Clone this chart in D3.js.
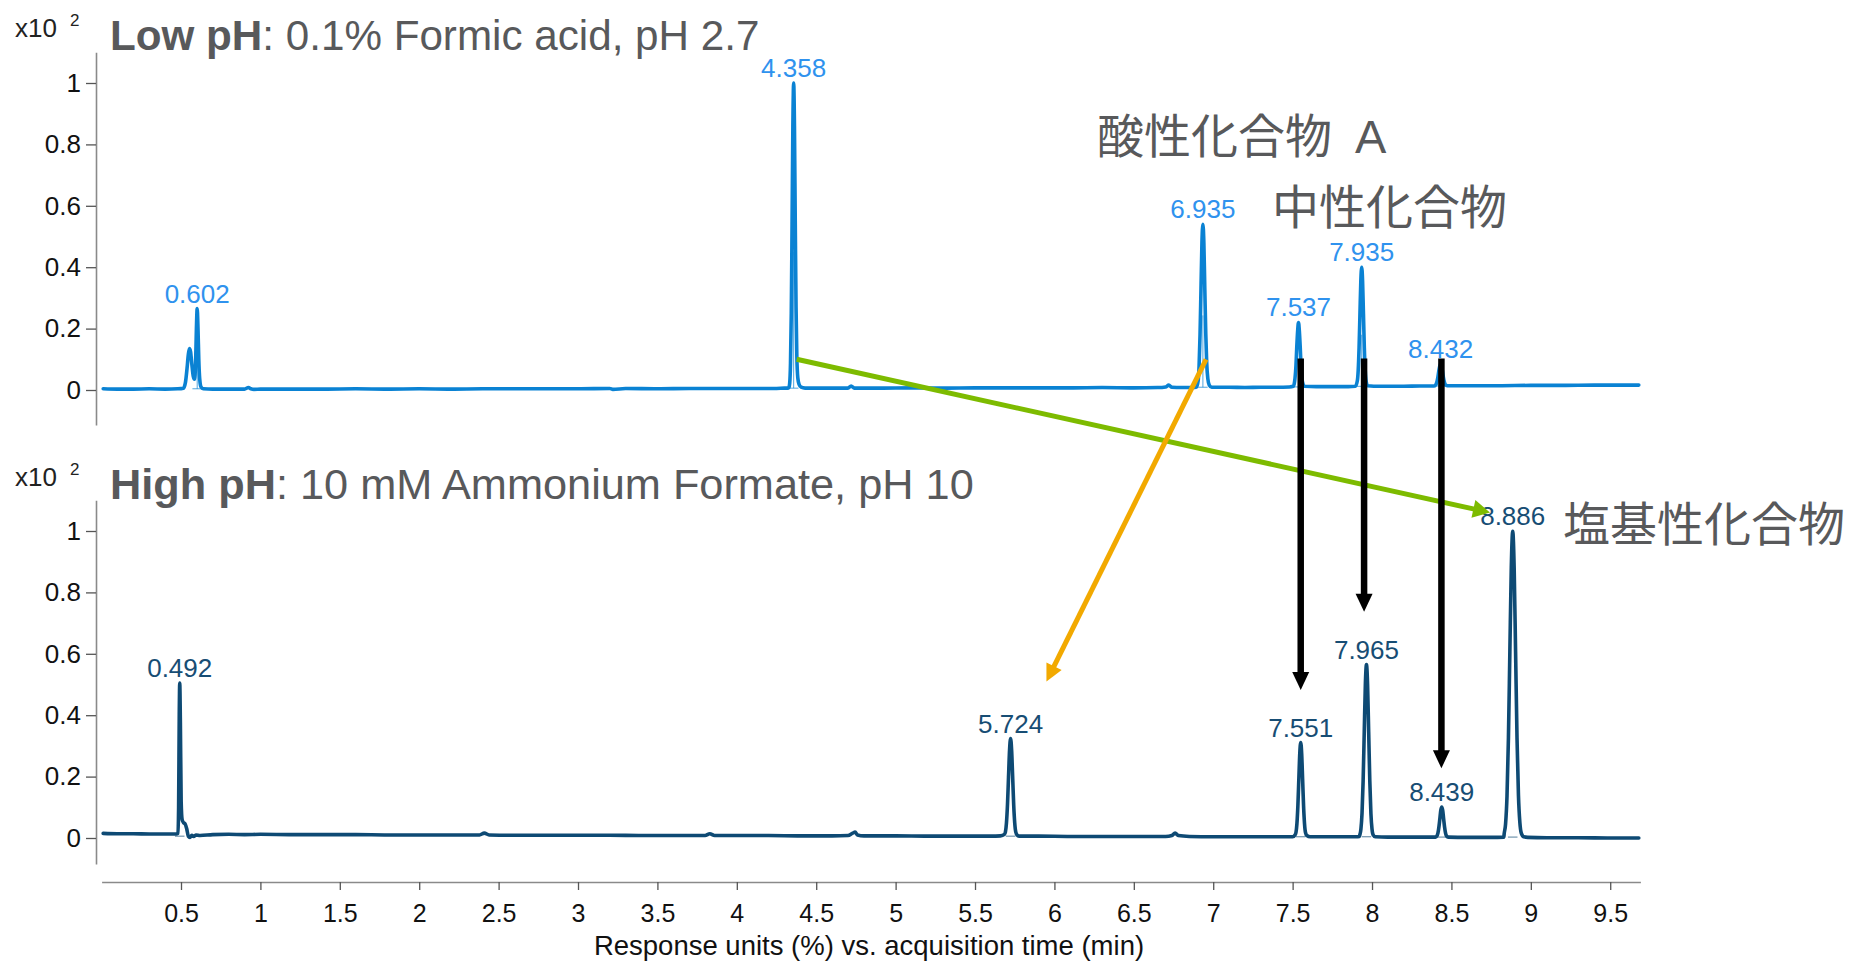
<!DOCTYPE html>
<html>
<head>
<meta charset="utf-8">
<script src="https://cdn.jsdelivr.net/npm/d3@7"></script>
<style>
  html, body { margin: 0; padding: 0; background: #fff; }
  svg { display: block; font-family: "Liberation Sans", Arial, sans-serif; }
</style>
</head>
<body>
<svg id="chart" width="1857" height="962"></svg>
<script>
// ---------- Chromatogram data (time in min, response in x10^2 %) ----------

// Low pH run: 0.1% formic acid
const lowPhTrace = [
  [0.01,0.004],[0.1,0.003],[0.2,0.003],[0.3,0.004],[0.4,0.003],[0.48,0.004],[0.515,0.006],
  [0.528,0.025],[0.538,0.07],[0.546,0.115],[0.553,0.135],[0.56,0.125],[0.568,0.085],[0.577,0.045],[0.585,0.035],
  [0.592,0.09],[0.597,0.2],[0.602,0.265],[0.607,0.2],[0.612,0.1],[0.618,0.035],[0.626,0.01],[0.64,0.004],
  [0.7,0.003],[0.8,0.003],[0.9,0.003],[0.925,0.008],[0.94,0.004],[0.96,0.002],[1.0,0.003],[1.2,0.003],
  [1.4,0.003],[1.6,0.004],[1.8,0.003],[2.0,0.004],[2.2,0.003],[2.4,0.004],[2.6,0.004],[2.8,0.004],
  [3.0,0.004],[3.2,0.005],[3.22,0.002],[3.3,0.005],[3.5,0.004],[3.7,0.005],[3.9,0.005],[4.1,0.005],
  [4.25,0.005],[4.3,0.006],[4.323,0.006],
  [4.328,0.008],[4.333,0.022],[4.338,0.085],[4.343,0.25],[4.348,0.54],[4.353,0.86],[4.358,1.0],
  [4.363,0.86],[4.368,0.55],[4.373,0.27],[4.378,0.11],[4.384,0.04],[4.392,0.018],[4.405,0.009],[4.43,0.006],
  [4.6,0.006],[4.7,0.006],[4.72,0.013],[4.74,0.006],[4.9,0.006],[5.1,0.007],[5.3,0.006],[5.5,0.007],
  [5.7,0.007],[5.9,0.007],[6.1,0.007],[6.3,0.008],[6.5,0.007],[6.65,0.008],[6.7,0.01],[6.72,0.016],
  [6.74,0.009],[6.8,0.008],[6.87,0.008],
  [6.895,0.01],[6.905,0.03],[6.911,0.078],[6.917,0.18],[6.923,0.33],[6.929,0.48],[6.935,0.54],
  [6.941,0.48],[6.947,0.33],[6.953,0.185],[6.959,0.088],[6.966,0.037],[6.975,0.016],[6.99,0.009],
  [7.1,0.009],[7.2,0.008],[7.3,0.009],[7.4,0.009],[7.48,0.01],[7.505,0.012],
  [7.51,0.02],[7.515,0.038],[7.521,0.079],[7.526,0.138],[7.532,0.195],[7.537,0.22],[7.542,0.195],
  [7.548,0.138],[7.553,0.079],[7.559,0.038],[7.565,0.02],[7.575,0.012],
  [7.65,0.011],[7.75,0.011],[7.85,0.011],[7.895,0.012],
  [7.9075,0.03],[7.913,0.064],[7.9185,0.138],[7.924,0.248],[7.9295,0.355],[7.935,0.40],[7.9405,0.355],
  [7.946,0.248],[7.9515,0.138],[7.957,0.064],[7.9625,0.03],[7.972,0.014],
  [8.05,0.012],[8.2,0.012],[8.3,0.013],[8.39,0.013],
  [8.4,0.016],[8.408,0.025],[8.414,0.04],[8.42,0.06],[8.426,0.077],[8.432,0.085],[8.438,0.077],
  [8.444,0.06],[8.45,0.04],[8.456,0.025],[8.464,0.016],[8.475,0.014],
  [8.6,0.014],[8.8,0.014],[9.0,0.015],[9.2,0.015],[9.4,0.016],[9.6,0.016],[9.68,0.016]
];
const lowPhPeakTimes   = [0.602, 4.358, 6.935, 7.537, 7.935, 8.432];
const lowPhPeakHeights = [0.265, 1.0,   0.54,  0.22,  0.40,  0.085];

// High pH run: 10 mM ammonium formate
const highPhTrace = [
  [0.01,0.015],[0.1,0.014],[0.2,0.014],[0.3,0.013],[0.4,0.013],[0.47,0.013],[0.481,0.015],
  [0.485,0.1],[0.489,0.4],[0.492,0.505],[0.496,0.38],[0.501,0.12],[0.507,0.06],[0.516,0.05],
  [0.526,0.046],[0.536,0.03],[0.546,0.006],[0.556,0.002],[0.568,0.009],[0.58,0.005],[0.595,0.01],
  [0.62,0.008],[0.7,0.011],[0.8,0.012],[0.9,0.011],[1.0,0.012],[1.2,0.011],[1.4,0.011],[1.6,0.011],
  [1.8,0.01],[2.0,0.01],[2.2,0.01],[2.38,0.01],[2.41,0.016],[2.44,0.01],[2.6,0.009],[2.8,0.009],
  [3.0,0.009],[3.2,0.009],[3.4,0.008],[3.6,0.008],[3.8,0.008],[3.83,0.014],[3.86,0.008],[4.0,0.008],
  [4.2,0.008],[4.4,0.007],[4.6,0.007],[4.7,0.008],[4.73,0.016],[4.745,0.019],[4.76,0.01],[4.8,0.007],
  [5.0,0.007],[5.2,0.006],[5.4,0.006],[5.6,0.006],[5.66,0.007],
  [5.685,0.012],[5.6915,0.02],[5.698,0.049],[5.7045,0.109],[5.711,0.199],[5.7175,0.286],[5.724,0.324],
  [5.7305,0.286],[5.737,0.199],[5.7435,0.109],[5.75,0.049],[5.7565,0.02],[5.765,0.01],[5.78,0.006],
  [5.9,0.006],[6.1,0.005],[6.3,0.005],[6.5,0.005],[6.7,0.005],[6.74,0.008],[6.76,0.016],[6.78,0.008],
  [6.85,0.005],[7.0,0.004],[7.2,0.004],[7.4,0.004],[7.5,0.004],
  [7.515,0.01],[7.521,0.018],[7.527,0.046],[7.533,0.104],[7.539,0.19],[7.545,0.275],[7.551,0.311],
  [7.557,0.275],[7.563,0.19],[7.569,0.104],[7.575,0.046],[7.581,0.018],[7.59,0.008],[7.61,0.004],
  [7.7,0.004],[7.8,0.004],[7.9,0.004],[7.92,0.005],
  [7.923,0.01],[7.93,0.029],[7.937,0.08],[7.944,0.186],[7.951,0.344],[7.958,0.499],[7.965,0.565],
  [7.972,0.499],[7.979,0.344],[7.986,0.186],[7.993,0.08],[8.0,0.029],[8.007,0.01],[8.02,0.004],
  [8.1,0.003],[8.2,0.003],[8.3,0.003],[8.4,0.003],
  [8.409,0.007],[8.415,0.016],[8.421,0.035],[8.427,0.062],[8.433,0.09],[8.439,0.101],[8.445,0.09],
  [8.451,0.062],[8.457,0.035],[8.463,0.016],[8.469,0.007],[8.48,0.003],
  [8.6,0.002],[8.75,0.002],[8.83,0.003],
  [8.832,0.013],[8.841,0.046],[8.85,0.137],[8.859,0.326],[8.868,0.607],[8.877,0.882],[8.886,0.999],
  [8.895,0.882],[8.904,0.607],[8.913,0.326],[8.922,0.14],[8.931,0.05],[8.94,0.016],[8.955,0.004],
  [8.98,0.002],[9.1,0.001],[9.3,0.001],[9.5,0.0],[9.68,0.0]
];
const highPhPeakTimes   = [0.492, 5.724, 7.551, 7.965, 8.439, 8.886];
const highPhPeakHeights = [0.505, 0.324, 0.311, 0.565, 0.101, 0.999];

// Axis ticks
const timeTicks = [0.5,1,1.5,2,2.5,3,3.5,4,4.5,5,5.5,6,6.5,7,7.5,8,8.5,9,9.5];
const responseTicks = [0,0.2,0.4,0.6,0.8,1];

// Panel titles
const panelTitles = [
  { bold: "Low pH",  rest: ": 0.1% Formic acid, pH 2.7" },
  { bold: "High pH", rest: ": 10 mM Ammonium Formate, pH 10" }
];

// Compound-class annotations
const classLabels = ["酸性化合物", "中性化合物", "塩基性化合物"];

// Retention-shift arrows: [time, response] in the low pH panel -> [time, response] in the high pH panel
const shiftArrowsGreen  = [[4.377, 0.10, 8.743, 1.06]];
const shiftArrowsOrange = [[6.955, 0.10, 5.95, 0.51]];
const shiftArrowsBlack  = [
  [7.551, 0.103, 7.551, 0.482],
  [7.950, 0.103, 7.950, 0.737],
  [8.437, 0.103, 8.437, 0.227]
];

// ---------- Drawing ----------
const svg = d3.select("#chart");

const x = d3.scaleLinear().domain([0, 9.69]).range([101.6, 1640.4]);
const unit = 307;
const yTop = d3.scaleLinear().domain([-0.114, 1.1]).range([390 + 0.114 * unit, 390 - 1.1 * unit]);
const yBot = d3.scaleLinear().domain([-0.085, 1.1]).range([838 + 0.085 * unit, 838 - 1.1 * unit]);

const COL_LOW = "#0a82d3", COL_LOW_LABEL = "#2f92ee";
const COL_HIGH = "#0e4a74", COL_HIGH_LABEL = "#174d74";
const GREY_TEXT = "#58595b";

function yAxis(scale) {
  const g = svg.append("g").attr("transform", "translate(96,0)")
    .call(d3.axisLeft(scale).tickValues(responseTicks).tickFormat(d3.format("~g"))
      .tickSize(10).tickSizeOuter(0).tickPadding(5));
  g.select(".domain").attr("stroke", "#8a8a8a").attr("stroke-width", 1.6);
  g.selectAll(".tick line").attr("stroke", "#555").attr("stroke-width", 1.3);
  g.selectAll(".tick text").attr("font-size", 26).attr("fill", "#111")
    .attr("font-family", "Liberation Sans, Arial, sans-serif");
}
yAxis(yTop);
yAxis(yBot);

// x axis
const xg = svg.append("g").attr("transform", "translate(0,882)")
  .call(d3.axisBottom(x).tickValues(timeTicks).tickFormat(d3.format("~g"))
    .tickSize(8).tickSizeOuter(0).tickPadding(14));
xg.select(".domain").attr("stroke", "#8a8a8a").attr("stroke-width", 1.6);
xg.selectAll(".tick line").attr("stroke", "#555").attr("stroke-width", 1.3);
xg.selectAll(".tick text").attr("font-size", 25).attr("fill", "#111")
  .attr("font-family", "Liberation Sans, Arial, sans-serif");

svg.append("text").attr("x", 869).attr("y", 955).attr("text-anchor", "middle")
  .attr("font-size", 27.5).attr("fill", "#111")
  .text("Response units (%) vs. acquisition time (min)");

// exponent markers
[[37, 26], [486, 475]].forEach(([b, s]) => {
  svg.append("text").attr("x", 15).attr("y", b).attr("font-size", 26).attr("fill", "#222").text("x10");
  svg.append("text").attr("x", 70).attr("y", s).attr("font-size", 17).attr("fill", "#222").text("2");
});

// panel titles
[[49.5, panelTitles[0], 42.2], [499.3, panelTitles[1], 43.3]].forEach(([yb, t, fs]) => {
  const tx = svg.append("text").attr("x", 110).attr("y", yb).attr("font-size", fs).attr("fill", GREY_TEXT);
  tx.append("tspan").attr("font-weight", "bold").text(t.bold);
  tx.append("tspan").text(t.rest);
});

// traces
function drawTrace(data, yScale, color, times, heights, labelColor, dropLines) {
  const g = svg.append("g");
  // integration marks under labelled peaks
  times.forEach((t, i) => {
    const win = data.filter(d => Math.abs(d[0] - t) < 0.06);
    const base = d3.min(win, d => d[1]);
    g.append("line").attr("x1", x(t - 0.03)).attr("x2", x(t + 0.03))
      .attr("y1", yScale(base)).attr("y2", yScale(base))
      .attr("stroke", color).attr("stroke-width", 1).attr("opacity", 0.7);
    if (dropLines) {
      g.append("line").attr("x1", x(t)).attr("x2", x(t))
        .attr("y1", yScale(base)).attr("y2", yScale(heights[i] * 0.45))
        .attr("stroke", color).attr("stroke-width", 1).attr("opacity", 0.7);
    }
  });
  const line = d3.line().x(d => x(d[0])).y(d => yScale(d[1])).curve(d3.curveMonotoneX);
  g.append("path").datum(data).attr("d", line)
    .attr("fill", "none").attr("stroke", color).attr("stroke-width", 3.6)
    .attr("stroke-linejoin", "round").attr("stroke-linecap", "round");
  times.forEach((t, i) => {
    g.append("text").attr("x", x(t)).attr("y", yScale(heights[i]) - 6)
      .attr("text-anchor", "middle").attr("font-size", 26).attr("fill", labelColor)
      .text(t.toFixed(3));
  });
}
drawTrace(lowPhTrace, yTop, COL_LOW, lowPhPeakTimes, lowPhPeakHeights, COL_LOW_LABEL, true);
drawTrace(highPhTrace, yBot, COL_HIGH, highPhPeakTimes, highPhPeakHeights, COL_HIGH_LABEL, false);

// compound class labels
const cjk = "'Noto Sans CJK JP', 'Noto Sans CJK SC', sans-serif";
const acid = svg.append("text").attr("x", 1097).attr("y", 153).attr("font-size", 47)
  .attr("fill", GREY_TEXT).attr("font-family", cjk);
acid.append("tspan").text(classLabels[0]);
acid.append("tspan").attr("x", 1355).attr("font-family", "Liberation Sans, Arial, sans-serif").text("A");
svg.append("text").attr("x", 1272).attr("y", 224).attr("font-size", 47)
  .attr("fill", GREY_TEXT).attr("font-family", cjk).text(classLabels[1]);
svg.append("text").attr("x", 1563).attr("y", 541).attr("font-size", 47)
  .attr("fill", GREY_TEXT).attr("font-family", cjk).text(classLabels[2]);

// arrows
function arrow(a, color, w, hl, hw) {
  const x1 = x(a[0]), y1 = yTop(a[1]), x2 = x(a[2]), y2 = yBot(a[3]);
  const dx = x2 - x1, dy = y2 - y1, L = Math.hypot(dx, dy), ux = dx / L, uy = dy / L;
  const bx = x2 - ux * hl, by = y2 - uy * hl;
  svg.append("line").attr("x1", x1).attr("y1", y1).attr("x2", bx + ux).attr("y2", by + uy)
    .attr("stroke", color).attr("stroke-width", w);
  svg.append("path")
    .attr("d", `M${x2},${y2}L${bx - uy * hw / 2},${by + ux * hw / 2}L${bx + uy * hw / 2},${by - ux * hw / 2}Z`)
    .attr("fill", color);
}
shiftArrowsGreen.forEach(a => arrow(a, "#7dbb00", 5, 17, 18));
shiftArrowsOrange.forEach(a => arrow(a, "#f2a900", 5, 17, 17));
shiftArrowsBlack.forEach(a => arrow(a, "#000", 6.5, 18, 17));
</script>
</body>
</html>
